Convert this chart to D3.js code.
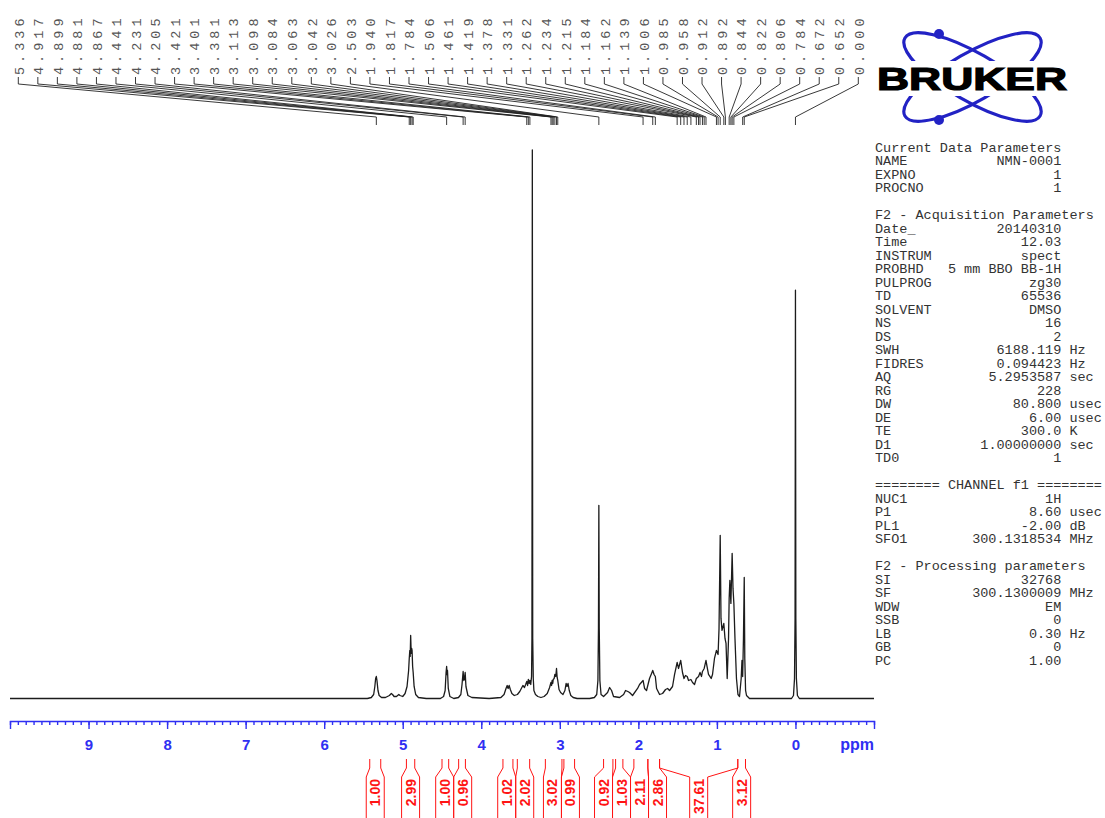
<!DOCTYPE html>
<meta charset="utf-8">
<head>
    <title>1H NMR spectrum, NMN-0001</title>
    <style>
      body { margin: 0; background: #fff; }
      svg { display: block; }
    </style>
</head>
<body>
    <script src="https://cdn.jsdelivr.net/npm/d3@7"></script>
    <div id="chart"></div>
    <script>

        var trace = [
          [10.0, 0], [9.0, 0], [8.0, 0], [7.0, 0], [6.0, 0], [5.45, 0],
          [5.40, 1], [5.37, 4], [5.355, 12], [5.345, 20], [5.336, 22], [5.328, 18], [5.315, 8], [5.30, 3], [5.27, 1],
          [5.22, 1], [5.17, 3], [5.145, 5], [5.13, 4], [5.11, 2], [5.08, 2], [5.05, 4], [5.035, 3], [5.00, 2],
          [4.97, 5], [4.945, 12], [4.925, 28], [4.917, 40], [4.91, 48], [4.905, 42], [4.899, 63], [4.892, 45],
          [4.886, 50], [4.881, 48], [4.874, 32], [4.867, 26], [4.855, 12], [4.835, 4], [4.80, 1], [4.70, 0],
          [4.52, 0], [4.48, 2], [4.46, 8], [4.448, 26], [4.441, 32], [4.436, 24], [4.43, 28], [4.42, 10], [4.40, 2], [4.35, 0],
          [4.29, 1], [4.26, 4], [4.245, 14], [4.231, 27], [4.222, 18], [4.214, 20], [4.205, 26], [4.195, 12], [4.17, 3], [4.12, 1],
          [3.90, 0], [3.75, 1], [3.71, 4], [3.685, 10], [3.67, 13], [3.658, 10], [3.645, 13], [3.63, 9], [3.61, 5], [3.58, 3],
          [3.54, 4], [3.51, 7], [3.49, 10], [3.47, 13], [3.45, 11], [3.435, 14], [3.421, 17], [3.41, 13], [3.401, 19],
          [3.39, 15], [3.381, 18], [3.37, 14], [3.36, 22], [3.355, 60], [3.35, 548], [3.345, 60], [3.338, 20], [3.33, 8],
          [3.31, 4], [3.28, 2], [3.24, 1],
          [3.20, 2], [3.16, 5], [3.13, 11], [3.113, 16], [3.105, 13], [3.098, 18], [3.09, 15], [3.084, 19], [3.072, 20],
          [3.063, 24], [3.052, 22], [3.042, 30], [3.034, 21], [3.026, 18], [3.01, 9], [2.99, 6], [2.96, 4], [2.935, 8],
          [2.92, 15], [2.908, 12], [2.895, 15], [2.88, 8], [2.86, 3], [2.83, 1], [2.78, 0],
          [2.62, 0], [2.56, 1], [2.53, 4], [2.515, 18], [2.508, 70], [2.503, 193], [2.498, 70], [2.49, 18], [2.475, 4],
          [2.443, 2], [2.392, 6], [2.366, 11], [2.341, 8], [2.316, 2], [2.239, 1], [2.188, 4], [2.163, 8], [2.134, 7],
          [2.112, 6], [2.074, 3], [2.010, 10], [1.985, 14], [1.940, 18], [1.921, 10], [1.896, 8], [1.858, 20], [1.832, 25],
          [1.817, 28], [1.800, 24], [1.784, 22], [1.768, 10], [1.730, 4], [1.692, 5], [1.654, 9], [1.628, 10], [1.603, 8],
          [1.565, 12], [1.539, 24], [1.506, 36], [1.489, 30], [1.461, 38], [1.438, 26], [1.419, 20], [1.400, 23],
          [1.378, 22], [1.361, 18], [1.331, 19], [1.310, 16], [1.285, 14], [1.262, 20], [1.234, 22], [1.215, 26],
          [1.196, 22], [1.184, 27], [1.162, 30], [1.139, 38], [1.126, 32], [1.107, 24], [1.073, 20], [1.056, 24],
          [1.031, 40], [1.006, 48], [0.985, 44], [0.973, 70], [0.958, 163], [0.948, 80], [0.935, 68], [0.912, 75],
          [0.897, 60], [0.892, 58], [0.884, 55], [0.869, 20], [0.852, 60], [0.844, 100], [0.835, 118], [0.822, 95],
          [0.806, 145], [0.795, 110], [0.784, 95], [0.770, 60], [0.751, 20], [0.732, 4], [0.712, 2], [0.691, 20],
          [0.681, 38], [0.672, 22], [0.662, 60], [0.652, 121], [0.645, 40], [0.635, 8], [0.623, 3], [0.585, 0],
          [0.30, 0], [0.05, 0], [0.025, 3], [0.012, 20], [0.005, 80], [0.0, 408], [-0.005, 80], [-0.012, 20],
          [-0.025, 3], [-0.05, 0], [-1.0, 0]
        ];

        var peakLabels = ['5.336', '4.917', '4.899', '4.881', '4.867', '4.441', '4.231', '4.205',
          '3.421', '3.401', '3.381', '3.113', '3.098', '3.084', '3.063', '3.042', '3.026', '2.503',
          '1.940', '1.817', '1.784', '1.506', '1.461', '1.419', '1.378', '1.331', '1.262', '1.234',
          '1.215', '1.184', '1.162', '1.139', '1.006', '0.985', '0.958', '0.912', '0.892', '0.844',
          '0.822', '0.806', '0.784', '0.672', '0.652', '0.000'];

        var intFrom = [5.420, 4.953, 4.500, 4.288, 3.724, 3.541, 3.184, 2.948, 2.443, 2.290, 2.057, 1.879, 1.730, 0.734];
        var intTo = [5.280, 4.847, 4.415, 4.202, 3.597, 3.384, 2.973, 2.812, 2.324, 2.197, 1.879, 1.730, 0.734, 0.636];
        var intValues = ['1.00', '2.99', '1.00', '0.96', '1.02', '2.02', '3.02', '0.99', '0.92', '1.03', '2.11', '2.86', '37.61', '3.12'];

        var majorTicks = [9, 8, 7, 6, 5, 4, 3, 2, 1, 0];

        var params = [
          ['Current Data Parameters'],
          ['NAME', 'NMN-0001', ''],
          ['EXPNO', '1', ''],
          ['PROCNO', '1', ''],
          [],
          ['F2 - Acquisition Parameters'],
          ['Date_', '20140310', ''],
          ['Time', '12.03', ''],
          ['INSTRUM', 'spect', ''],
          ['PROBHD', '5 mm BBO BB-1H', ''],
          ['PULPROG', 'zg30', ''],
          ['TD', '65536', ''],
          ['SOLVENT', 'DMSO', ''],
          ['NS', '16', ''],
          ['DS', '2', ''],
          ['SWH', '6188.119', 'Hz'],
          ['FIDRES', '0.094423', 'Hz'],
          ['AQ', '5.2953587', 'sec'],
          ['RG', '228', ''],
          ['DW', '80.800', 'usec'],
          ['DE', '6.00', 'usec'],
          ['TE', '300.0', 'K'],
          ['D1', '1.00000000', 'sec'],
          ['TD0', '1', ''],
          [],
          ['======== CHANNEL f1 ========'],
          ['NUC1', '1H', ''],
          ['P1', '8.60', 'usec'],
          ['PL1', '-2.00', 'dB'],
          ['SFO1', '300.1318534', 'MHz'],
          [],
          ['F2 - Processing parameters'],
          ['SI', '32768', ''],
          ['SF', '300.1300009', 'MHz'],
          ['WDW', 'EM', ''],
          ['SSB', '0', ''],
          ['LB', '0.30', 'Hz'],
          ['GB', '0', ''],
          ['PC', '1.00', '']
        ];

        var width = 1105;
        var height = 818;
        var blue = '#2f2ff2';
        var red = '#ff1414';
        var mono = '"Liberation Mono", "DejaVu Sans Mono", monospace';
        var sans = '"Liberation Sans", Arial, sans-serif';

        var svg = d3.select('#chart')
          .append('svg')
          .attr('width', width)
          .attr('height', height);

        var x = d3.scaleLinear().domain([10, -1]).range([10, 874]);
        var y = d3.scaleLinear().domain([0, 548]).range([698.5, 150]);

        // spectrum
        var line = d3.line()
          .x(function(d) { return x(d[0]); })
          .y(function(d) { return y(d[1]); });

        svg.append('path')
          .datum(trace)
          .attr('d', line)
          .attr('fill', 'none')
          .attr('stroke', '#1c1c1c')
          .attr('stroke-width', 1.3)
          .attr('stroke-linejoin', 'round');

        // ppm axis
        var axisY = 721;
        var minor = svg.append('g')
          .attr('transform', 'translate(0,' + axisY + ')')
          .call(d3.axisBottom(x)
            .tickValues(d3.range(-10, 101).map(function(i) { return i / 10; }))
            .tickSize(4)
            .tickFormat(''));
        minor.select('.domain').remove();

        var major = svg.append('g')
          .attr('transform', 'translate(0,' + axisY + ')')
          .call(d3.axisBottom(x)
            .tickValues(majorTicks)
            .tickSize(8)
            .tickSizeOuter(8)
            .tickPadding(10)
            .tickFormat(d3.format('d')));

        svg.selectAll('.tick line, .domain')
          .attr('stroke', blue)
          .attr('stroke-width', 1.4);
        major.selectAll('text')
          .attr('fill', blue)
          .attr('font-family', sans)
          .attr('font-weight', 'bold')
          .attr('font-size', 15);

        svg.append('text')
          .attr('x', 874)
          .attr('y', 750)
          .attr('text-anchor', 'end')
          .attr('font-family', sans)
          .attr('font-weight', 'bold')
          .attr('font-size', 16)
          .attr('fill', blue)
          .text('ppm');

        // peak picking labels
        var lx = d3.scalePoint().domain(peakLabels).range([18.3, 858.3]);

        svg.append('g').selectAll('path')
          .data(peakLabels)
          .enter()
          .append('path')
          .attr('d', function(d) {
            var px = x(+d);
            return 'M' + lx(d) + ',77V84L' + px + ',117V125';
          })
          .attr('fill', 'none')
          .attr('stroke', '#222')
          .attr('stroke-width', 0.9);

        svg.append('g').selectAll('text')
          .data(peakLabels)
          .enter()
          .append('text')
          .attr('transform', function(d) { return 'translate(' + (lx(d) + 0.5) + ',75) rotate(-90)'; })
          .attr('dy', '0.35em')
          .attr('font-family', mono)
          .attr('font-size', 13.5)
          .attr('letter-spacing', 4)
          .attr('fill', '#555')
          .text(function(d) { return d; });

        // integrals
        var centers = intFrom.map(function(d, i) { return (x(d) + x(intTo[i])) / 2; });
        for (var k = 0; k < 20; k++) {
          for (var i = 1; i < centers.length; i++) {
            var gap = centers[i] - centers[i - 1];
            if (gap < 18) {
              centers[i - 1] -= (18 - gap) / 2;
              centers[i] += (18 - gap) / 2;
            }
          }
        }

        var integ = svg.append('g');
        intValues.forEach(function(v, i) {
          var xl = x(intFrom[i]), xr = x(intTo[i]), c = centers[i];
          integ.append('path')
            .attr('d', 'M' + xl + ',759V768L' + (c - 9) + ',777V818' +
                       'M' + xr + ',759V768L' + (c + 9) + ',777V818')
            .attr('fill', 'none')
            .attr('stroke', red)
            .attr('stroke-width', 1);
          integ.append('text')
            .attr('transform', 'translate(' + c + ',779) rotate(-90)')
            .attr('dy', '0.36em')
            .attr('text-anchor', 'end')
            .attr('font-family', sans)
            .attr('font-weight', 'bold')
            .attr('font-size', 14)
            .attr('fill', red)
            .text(v);
        });

        // acquisition parameters
        var px0 = 875, cw = 8.1;
        var ptext = svg.append('g')
          .attr('font-family', mono)
          .attr('font-size', 13.5)
          .attr('fill', '#333');
        params.forEach(function(d, i) {
          var yy = 151.5 + i * 13.5;
          if (d.length === 0) return;
          ptext.append('text').attr('x', px0).attr('y', yy).attr('xml:space', 'preserve').text(d[0]);
          if (d.length === 1) return;
          ptext.append('text').attr('x', px0 + 23 * cw).attr('y', yy)
            .attr('text-anchor', 'end').attr('xml:space', 'preserve').text(d[1]);
          if (d[2]) ptext.append('text').attr('x', px0 + 24 * cw).attr('y', yy).text(d[2]);
        });

        // Bruker logo
        var logo = svg.append('g');
        [30, -30].forEach(function(a) {
          logo.append('ellipse')
            .attr('transform', 'translate(972.5,77) rotate(' + a + ')')
            .attr('rx', 78).attr('ry', 24)
            .attr('fill', 'none')
            .attr('stroke', '#2222c4')
            .attr('stroke-width', 3.2);
        });
        logo.append('circle').attr('cx', 939).attr('cy', 34).attr('r', 5).attr('fill', '#2222c4');
        logo.append('circle').attr('cx', 939).attr('cy', 120).attr('r', 5).attr('fill', '#2222c4');
        logo.append('rect').attr('x', 872).attr('y', 61).attr('width', 200).attr('height', 35).attr('fill', '#fff');
        logo.append('text')
          .attr('x', 877).attr('y', 90)
          .attr('textLength', 190)
          .attr('lengthAdjust', 'spacingAndGlyphs')
          .attr('font-family', sans)
          .attr('font-weight', 'bold')
          .attr('font-size', 31)
          .attr('fill', '#000')
          .attr('stroke', '#000')
          .attr('stroke-width', 1.2)
          .text('BRUKER');
  </script>
</body>
